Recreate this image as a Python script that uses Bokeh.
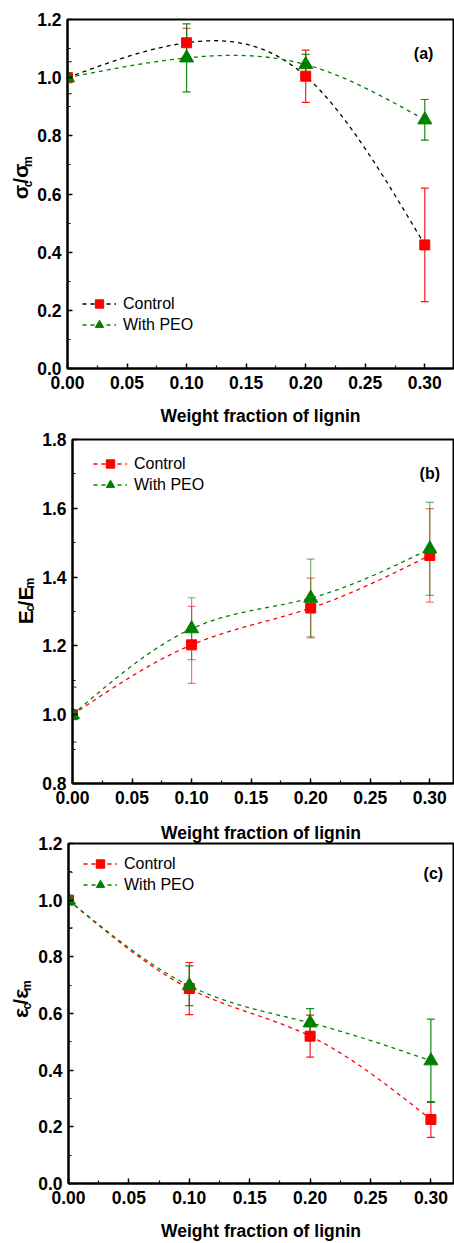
import numpy as np
from bokeh.plotting import figure
from bokeh.models import (ColumnDataSource, Whisker, TeeHead, FixedTicker, Label,
                          Legend, LegendItem, NumeralTickFormatter, Range1d)
from bokeh.layouts import column, row
from bokeh.embed import file_html
from bokeh.resources import INLINE
from bokeh.core.properties import value

# ---------------- data ----------------
lignin = [0.0, 0.1, 0.2, 0.3]
x_ticks = [0.0, 0.05, 0.10, 0.15, 0.20, 0.25, 0.30]
x_minor = [0.025, 0.075, 0.125, 0.175, 0.225, 0.275]
series_names = ["Control", "With PEO"]
x_title = "Weight fraction of lignin"

# (a) strength ratio
a_control = [1.0, 1.12, 1.005, 0.425]
a_control_err = [0.055, 0.05, 0.09, 0.195]
a_peo = [1.0, 1.068, 1.045, 0.855]
a_peo_err = [0.055, 0.117, 0.035, 0.07]
a_yticks = [0.0, 0.2, 0.4, 0.6, 0.8, 1.0, 1.2]
a_yminor = [0.1, 0.3, 0.5, 0.7, 0.9, 1.1]

# (b) modulus ratio
b_control = [1.0, 1.203, 1.31, 1.463]
b_control_err = [0.08, 0.112, 0.087, 0.136]
b_peo = [1.0, 1.25, 1.339, 1.482]
b_peo_err = [0.08, 0.09, 0.113, 0.135]
b_yticks = [0.8, 1.0, 1.2, 1.4, 1.6, 1.8]
b_yminor = [0.9, 1.1, 1.3, 1.5, 1.7]

# (c) strain ratio
c_control = [1.0, 0.688, 0.52, 0.226]
c_control_err = [0.098, 0.092, 0.074, 0.063]
c_peo = [1.0, 0.698, 0.567, 0.433]
c_peo_err = [0.098, 0.07, 0.05, 0.147]
c_yticks = [0.0, 0.2, 0.4, 0.6, 0.8, 1.0, 1.2]
c_yminor = [0.1, 0.3, 0.5, 0.7, 0.9, 1.1]

FONT = "Liberation Sans"
RED = "#ff0000"
GREEN = "#008000"
W_EM = {"σ": 0.61, "E": 0.667, "ε": 0.52, "/": 0.278, "c": 0.556, "m": 0.889}
TOTAL_W = 454
MAIN_FS = 21
SUB_FS = 12


def natural_spline(xv, yv, n=160):
    """Smooth connecting curve (natural cubic spline) through the data points."""
    xv = np.asarray(xv, float)
    yv = np.asarray(yv, float)
    k = len(xv)
    h = np.diff(xv)
    A = np.zeros((k, k))
    r = np.zeros(k)
    A[0, 0] = A[-1, -1] = 1.0
    for i in range(1, k - 1):
        A[i, i - 1] = h[i - 1]
        A[i, i] = 2 * (h[i - 1] + h[i])
        A[i, i + 1] = h[i]
        r[i] = 6 * ((yv[i + 1] - yv[i]) / h[i] - (yv[i] - yv[i - 1]) / h[i - 1])
    M = np.linalg.solve(A, r)
    xs = np.linspace(xv[0], xv[-1], n)
    idx = np.clip(np.searchsorted(xv, xs) - 1, 0, k - 2)
    x0, x1 = xv[idx], xv[idx + 1]
    hh = x1 - x0
    ys = (M[idx] * (x1 - xs) ** 3 / (6 * hh) + M[idx + 1] * (xs - x0) ** 3 / (6 * hh)
          + (yv[idx] / hh - M[idx] * hh / 6) * (x1 - xs)
          + (yv[idx + 1] / hh - M[idx + 1] * hh / 6) * (xs - x0))
    return xs, ys


def ytitle_fig(width, height, sym, main_x, sub_x, center_from_top):
    f = figure(width=width, height=height, output_backend="svg", toolbar_location=None,
               x_range=Range1d(0, width), y_range=Range1d(0, height),
               x_axis_location=None, y_axis_location=None, min_border=0,
               background_fill_color="white", border_fill_color="white")
    f.grid.visible = False
    f.outline_line_color = None
    pieces = [(sym, False), ("c", True), ("/" + sym, False), ("m", True)]
    widths = [sum(W_EM[ch] for ch in t) * (SUB_FS if sub else MAIN_FS) for t, sub in pieces]
    total = sum(widths)
    ymid = height - center_from_top
    pos = ymid - total / 2
    for (t, sub), w in zip(pieces, widths):
        f.text(x=[sub_x if sub else main_x], y=[pos + w / 2], text=[t], angle=np.pi / 2,
               text_font=value(FONT), text_font_size="%dpx" % (SUB_FS if sub else MAIN_FS),
               text_font_style="bold", text_align="center", text_baseline="middle",
               text_color="black")
        pos += w
    return f


def make_panel(width, height, bl, bt, bb, x_end, y_rng, yticks, yminor,
               ctrl, ctrl_err, peo, peo_err, ctrl_line_color, err_alpha,
               tag, tag_xy, leg_loc, axis_label=None, top_title=None):
    p = figure(width=width, height=height, output_backend="svg", toolbar_location=None,
               x_range=Range1d(0, x_end), y_range=Range1d(*y_rng),
               min_border_left=bl, min_border_right=1, min_border_top=bt,
               min_border_bottom=bb, background_fill_color="white",
               border_fill_color="white")
    p.xgrid.visible = False
    p.ygrid.visible = False
    p.outline_line_color = "black"
    p.outline_line_width = 2

    if top_title:
        p.title.text = top_title
        p.title.align = "center"
        p.title.text_font = FONT
        p.title.text_font_size = "17.5px"
        p.title.text_font_style = "bold"
        p.title.text_color = "black"
        p.title.standoff = 2
        p.title.offset = 0

    for ax in (p.xaxis[0], p.yaxis[0]):
        ax.axis_line_width = 2
        ax.axis_line_color = "black"
        ax.major_tick_in = 5
        ax.major_tick_out = 0
        ax.minor_tick_in = 3
        ax.minor_tick_out = 0
        ax.major_tick_line_width = 1.5
        ax.minor_tick_line_width = 1.2
        ax.major_label_text_font = FONT
        ax.major_label_text_font_size = "17.5px"
        ax.major_label_text_font_style = "bold"
        ax.major_label_text_color = "black"
    p.xaxis.ticker = FixedTicker(ticks=x_ticks, minor_ticks=x_minor)
    p.xaxis.formatter = NumeralTickFormatter(format="0.00")
    p.xaxis.major_label_standoff = 7
    p.yaxis.ticker = FixedTicker(ticks=yticks, minor_ticks=yminor)
    p.yaxis.formatter = NumeralTickFormatter(format="0.0")
    p.yaxis.major_label_standoff = 6
    if axis_label:
        p.xaxis.axis_label = axis_label
        p.xaxis.axis_label_text_font = FONT
        p.xaxis.axis_label_text_font_size = "17.5px"
        p.xaxis.axis_label_text_font_style = "bold"
        p.xaxis.axis_label_text_color = "black"
        p.xaxis.axis_label_standoff = 14

    # error bars
    for vals, errs, col in ((ctrl, ctrl_err, RED), (peo, peo_err, GREEN)):
        src = ColumnDataSource(dict(x=lignin,
                                    upper=[v + e for v, e in zip(vals, errs)],
                                    lower=[v - e for v, e in zip(vals, errs)]))
        w = Whisker(base="x", upper="upper", lower="lower", source=src,
                    line_color=col, line_alpha=err_alpha, line_width=1.2,
                    upper_head=TeeHead(size=8, line_color=col, line_alpha=err_alpha, line_width=1.2),
                    lower_head=TeeHead(size=8, line_color=col, line_alpha=err_alpha, line_width=1.2))
        p.add_layout(w)

    cx, cy = natural_spline(lignin, ctrl)
    gx, gy = natural_spline(lignin, peo)
    l1 = p.line(cx, cy, line_color=ctrl_line_color, line_dash="4 4", line_width=1.3)
    l2 = p.line(gx, gy, line_color=GREEN, line_dash="4 4", line_width=1.3)
    s1 = p.scatter(lignin, ctrl, marker="square", size=10, fill_color=RED, line_color=RED)
    s2 = p.scatter(lignin, peo, marker="triangle", size=14, fill_color=GREEN, line_color=GREEN)

    leg = Legend(items=[LegendItem(label=series_names[0], renderers=[l1, s1]),
                        LegendItem(label=series_names[1], renderers=[l2, s2])],
                 location=leg_loc, glyph_width=34, glyph_height=21, label_height=21,
                 label_standoff=7, spacing=0, padding=0, margin=0,
                 border_line_color=None, background_fill_alpha=0,
                 label_text_font=FONT, label_text_font_size="16px",
                 label_text_color="black")
    p.add_layout(leg)

    p.add_layout(Label(x=tag_xy[0], y=tag_xy[1], text=tag, text_font=FONT,
                       text_font_size="16px", text_font_style="bold",
                       text_align="center", text_baseline="middle", text_color="black"))
    return p


# panel (a): page rows 0..428, frame 67..453 x 19..368
ta = ytitle_fig(34, 428, "σ", 20, 27, 193.5)
pa = make_panel(TOTAL_W - 34, 428, 33, 19, 60, 0.3241, (0, 1.2), a_yticks, a_yminor,
                a_control, a_control_err, a_peo, a_peo_err, "black", 0.9,
                "(a)", (0.299, 1.083), (15, 33), axis_label=x_title)
# panel (b): page rows 428..818, frame 72..453 x 439..783
tb = ytitle_fig(38, 390, "E", 24.5, 29.5, 183)
pb = make_panel(TOTAL_W - 38, 390, 34, 11, 35, 0.3199, (0.8, 1.8), b_yticks, b_yminor,
                b_control, b_control_err, b_peo, b_peo_err, RED, 0.55,
                "(b)", (0.300, 1.701), (21, 288))
# panel (c): page rows 818..1243, frame 68..453 x 843..1183
tc = ytitle_fig(34, 425, "ε", 19.5, 26, 195)
pc = make_panel(TOTAL_W - 34, 425, 34, 25, 60, 0.3187, (0, 1.2), c_yticks, c_yminor,
                c_control, c_control_err, c_peo, c_peo_err, RED, 0.9,
                "(c)", (0.302, 1.093), (15, 288),
                axis_label=x_title, top_title=x_title)

layout = column(row(ta, pa, spacing=0), row(tb, pb, spacing=0), row(tc, pc, spacing=0), spacing=0)
open("out.html", "w").write(file_html(layout, INLINE))
